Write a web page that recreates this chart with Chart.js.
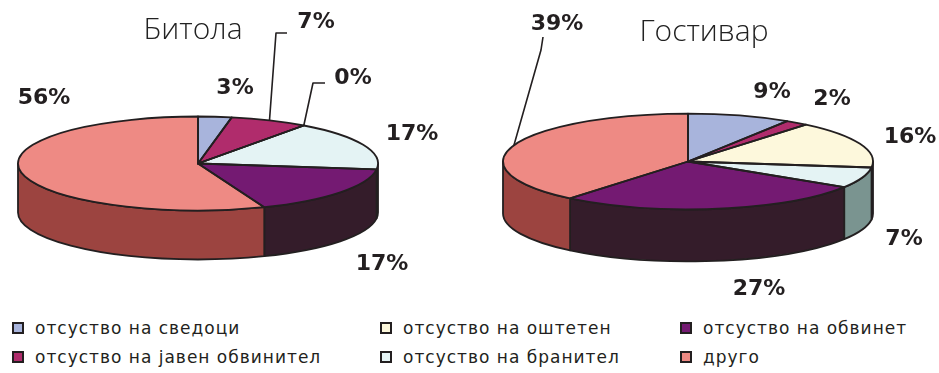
<!DOCTYPE html>
<html>
<head>
<meta charset="utf-8">
<script src="https://cdn.jsdelivr.net/npm/chart.js@4.4.0/dist/chart.umd.min.js"></script>
<style>
  body { margin: 0; background: #fff; }
  #wrap { position: relative; width: 939px; height: 373px; overflow: hidden; }
  canvas { position: absolute; top: 0; }
  #bitola { left: 0; }
  #gostivar { left: 470px; }
  .legend-item { position: absolute; display: flex; align-items: center; white-space: nowrap;
    font-family: "DejaVu Sans"; font-size: 17px; letter-spacing: 1px; color: #231f20; line-height: 20px; }
  .legend-item i { display: inline-block; width: 8px; height: 8px; border: 2px solid #231f20; margin-right: 11px; }
</style>
</head>
<body>
<div id="wrap">
  <canvas id="bitola" width="470" height="310"></canvas>
  <canvas id="gostivar" width="469" height="310"></canvas>
  <div id="legend"></div>
</div>
<script>
const categories = ["отсуство на сведоци", "отсуство на јавен обвинител", "отсуство на оштетен",
  "отсуство на бранител", "отсуство на обвинет", "друго"]
const bitolaValues = [3, 7, 0, 17, 17, 56]
const gostivarValues = [9, 2, 16, 7, 27, 39]
const topColors = ["#a8b4dc", "#b02c6c", "#fdf8dc", "#e4f3f4", "#741a72", "#ee8a84"]
const sideColors = ["#6a74a0", "#72183f", "#b8b28c", "#7a9490", "#341c2a", "#9c4440"]

// draws the side wall before the pie, squashes the pie into an ellipse,
// then strokes the outlines and writes the percent labels on top
const pie3d = {
  id: 'pie3d',
  beforeDatasetsDraw(chart, args, opts) {
    let ctx = chart.ctx
    let arcs = chart.getDatasetMeta(0).data
    let cx = arcs[0].x, cy = arcs[0].y, r = arcs[0].outerRadius
    let ry = r * opts.tilt
    ctx.save()
    ctx.lineWidth = opts.lineWidth
    ctx.strokeStyle = opts.lineColor
    ctx.lineJoin = 'round'
    arcs.forEach((arc, i) => {
      let a0 = Math.max(arc.startAngle, 0)
      let a1 = Math.min(arc.endAngle, Math.PI)
      if (a1 <= a0) return
      ctx.beginPath()
      ctx.ellipse(cx, cy, r, ry, 0, a0, a1)
      ctx.ellipse(cx, cy + opts.depth, r, ry, 0, a1, a0, true)
      ctx.closePath()
      ctx.fillStyle = sideColors[i]
      ctx.fill()
      ctx.stroke()
    })
    ctx.restore()
    ctx.save()
    ctx.translate(0, cy)
    ctx.scale(1, opts.tilt)
    ctx.translate(0, -cy)
  },
  afterDatasetsDraw(chart, args, opts) {
    let ctx = chart.ctx
    ctx.restore()
    let arcs = chart.getDatasetMeta(0).data
    let values = chart.data.datasets[0].data
    let cx = arcs[0].x, cy = arcs[0].y, r = arcs[0].outerRadius
    let ry = r * opts.tilt
    ctx.save()
    ctx.lineWidth = opts.lineWidth
    ctx.strokeStyle = opts.lineColor
    ctx.lineJoin = 'round'
    arcs.forEach(arc => {
      ctx.beginPath()
      ctx.moveTo(cx, cy)
      ctx.ellipse(cx, cy, r, ry, 0, arc.startAngle, arc.endAngle)
      ctx.closePath()
      ctx.stroke()
    })
    // leader lines start from the middle of the slice rim
    ctx.lineWidth = 1.6
    for (let i in opts.leaders) {
      let arc = arcs[i]
      let mid = (arc.startAngle + arc.endAngle) / 2
      ctx.beginPath()
      ctx.moveTo(cx + r * Math.cos(mid), cy + ry * Math.sin(mid))
      opts.leaders[i].forEach(p => ctx.lineTo(p[0], p[1]))
      ctx.stroke()
    }
    ctx.fillStyle = opts.lineColor
    ctx.textAlign = 'center'
    ctx.textBaseline = 'middle'
    ctx.font = 'bold 22px "DejaVu Sans"'
    values.forEach((v, i) => {
      let p = opts.labelPos[i]
      ctx.fillText(v + '%', p[0], p[1])
    })
    ctx.font = '300 30px "Open Sans"'
    ctx.fillStyle = '#222'
    ctx.fillText(opts.title, opts.titlePos[0], opts.titlePos[1])
    ctx.restore()
  }
}

let makePie = (id, values, radius, padding, pieOpts) => {
  return new Chart(id, {
    type: 'pie',
    data: {
      labels: categories,
      datasets: [{
        data: values,
        backgroundColor: topColors,
        borderWidth: 0
      }]
    },
    options: {
      responsive: false,
      animation: false,
      events: [],
      radius: radius,
      layout: { padding: padding },
      plugins: {
        legend: { display: false },
        tooltip: { enabled: false },
        pie3d: pieOpts
      }
    },
    plugins: [pie3d]
  })
}

makePie("bitola", bitolaValues, 180, { left: 0, right: 74, top: 17, bottom: 0 }, {
  tilt: 0.261, depth: 49, lineWidth: 1.8, lineColor: '#231f20',
  title: "Битола", titlePos: [193, 30],
  labelPos: [[235, 88], [316, 22], [353, 78], [412, 134], [382, 264], [44, 98]],
  leaders: { 1: [[276, 33], [287, 33]], 2: [[313, 83], [325, 83]] }
})

makePie("gostivar", gostivarValues, 185, { left: 0, right: 33, top: 13, bottom: 0 }, {
  tilt: 0.259, depth: 52, lineWidth: 1.8, lineColor: '#231f20',
  title: "Гостивар", titlePos: [234, 32],
  labelPos: [[302, 92], [362, 99], [440, 137], [434, 239], [289, 289], [87, 24]],
  leaders: { 5: [[71, 50], [73, 37]] }
})

// legend in three columns, two rows
let legend = document.getElementById("legend")
let colX = [12, 380, 680]
let rowY = [318, 347]
categories.forEach((name, i) => {
  let item = document.createElement("div")
  item.className = "legend-item"
  item.style.left = colX[Math.floor(i / 2)] + "px"
  item.style.top = rowY[i % 2] + "px"
  let box = document.createElement("i")
  box.style.background = topColors[i]
  item.appendChild(box)
  item.appendChild(document.createTextNode(name))
  legend.appendChild(item)
})
</script>
</body>
</html>
